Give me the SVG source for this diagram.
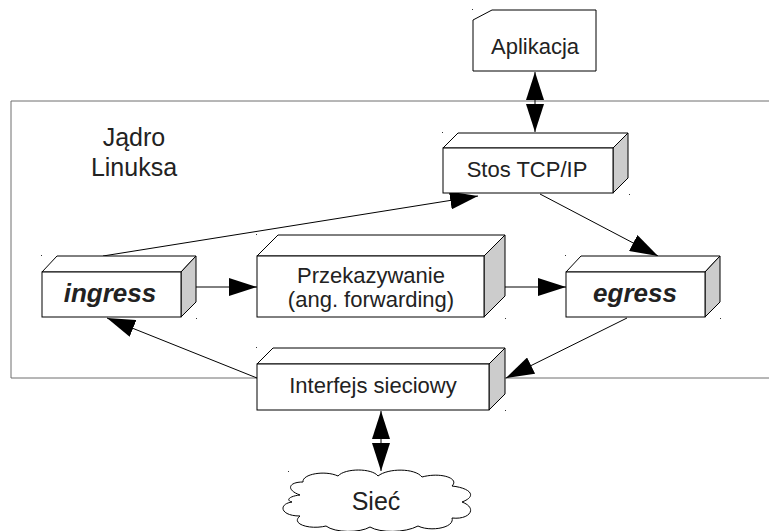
<svg xmlns="http://www.w3.org/2000/svg" width="769" height="531" viewBox="0 0 769 531">
<style>
.t{font-family:"Liberation Sans",Arial,sans-serif;fill:#222;text-anchor:middle}
.front{fill:#fff;stroke:#000;stroke-width:1}
.side{fill:#ccc;stroke:#000;stroke-width:1}
.top{fill:#fff;stroke:#000;stroke-width:1}
.c{stroke:#000;stroke-width:1;fill:none}
.d{fill:#333}
</style>
<defs>
<marker id="bh" viewBox="0 0 28 18" refX="28" refY="9" markerWidth="28" markerHeight="18" markerUnits="userSpaceOnUse" orient="auto">
<path d="M0,0 L28,9 L0,18 Z" fill="#000"/>
</marker>
</defs>
<rect width="769" height="531" fill="#fff"/>
<g id="kernel">
<path d="M769,101 L11,101 L11,378 L769,378" fill="none" stroke="#6e6e6e" stroke-width="1"/>
<text class="t" x="134" y="146" font-size="25">Jądro</text>
<text class="t" x="134" y="176" font-size="25">Linuksa</text>
</g>
<g id="connectors">
<line class="c" x1="535" y1="102" x2="535" y2="72" marker-end="url(#bh)"/>
<line class="c" x1="535" y1="102" x2="535" y2="132" marker-end="url(#bh)"/>
<line class="c" x1="381" y1="441" x2="381" y2="411" marker-end="url(#bh)"/>
<line class="c" x1="381" y1="441" x2="381" y2="471" marker-end="url(#bh)"/>
<line class="c" x1="103" y1="256" x2="478" y2="196" marker-end="url(#bh)"/>
<line class="c" x1="540" y1="194" x2="658" y2="256" marker-end="url(#bh)"/>
<line class="c" x1="196" y1="287" x2="257" y2="287" marker-end="url(#bh)"/>
<line class="c" x1="505" y1="287" x2="566" y2="287" marker-end="url(#bh)"/>
<line class="c" x1="627" y1="318" x2="506" y2="378" marker-end="url(#bh)"/>
<line class="c" x1="257" y1="378" x2="107" y2="318" marker-end="url(#bh)"/>
</g>
<g id="aplikacja">
<path class="front" d="M473,20 L492,10 L596,10 L596,71 L473,71 Z"/>
<rect class="d" x="472" y="9" width="1" height="1"/>
<text class="t" x="535" y="54" font-size="22">Aplikacja</text>
</g>
<g id="stos">
<path class="top" d="M443,148 L458,133 L628,133 L613,148 Z"/>
<path class="side" d="M613,148 L628,133 L628,178 L613,193 Z"/>
<rect class="front" x="443" y="148" width="170" height="45"/>
<rect class="d" x="442" y="132" width="1" height="1"/>
<rect class="d" x="629" y="194" width="1" height="1"/>
<text class="t" x="527" y="177" font-size="22">Stos TCP/IP</text>
</g>
<g id="ingress">
<path class="top" d="M42,272 L57,256 L196,256 L181,272 Z"/>
<path class="side" d="M181,272 L196,256 L196,302 L181,317 Z"/>
<rect class="front" x="42" y="272" width="139" height="45"/>
<rect class="d" x="41" y="255" width="1" height="1"/>
<rect class="d" x="196" y="318" width="1" height="1"/>
<text class="t" x="110" y="302" font-size="26" font-weight="bold" font-style="italic">ingress</text>
</g>
<g id="przekazywanie">
<path class="top" d="M257,256 L278,235 L505,235 L484,256 Z"/>
<path class="side" d="M484,256 L505,235 L505,296 L484,317 Z"/>
<rect class="front" x="257" y="256" width="227" height="61"/>
<rect class="d" x="256" y="234" width="1" height="1"/>
<rect class="d" x="505" y="318" width="1" height="1"/>
<text class="t" x="371" y="283" font-size="22">Przekazywanie</text>
<text class="t" x="371" y="307" font-size="22">(ang. forwarding)</text>
</g>
<g id="egress">
<path class="top" d="M566,272 L581,256 L720,256 L705,272 Z"/>
<path class="side" d="M705,272 L720,256 L720,302 L705,317 Z"/>
<rect class="front" x="566" y="272" width="139" height="45"/>
<rect class="d" x="565" y="255" width="1" height="1"/>
<rect class="d" x="720" y="318" width="1" height="1"/>
<text class="t" x="635" y="302" font-size="26" font-weight="bold" font-style="italic">egress</text>
</g>
<g id="interfejs">
<path class="top" d="M257,364 L273,348 L505,348 L489,364 Z"/>
<path class="side" d="M489,364 L505,348 L505,394 L489,410 Z"/>
<rect class="front" x="257" y="364" width="232" height="46"/>
<rect class="d" x="256" y="347" width="1" height="1"/>
<rect class="d" x="505" y="410" width="1" height="1"/>
<text class="t" x="373" y="393" font-size="22">Interfejs sieciowy</text>
</g>
<g id="siec">
<path class="front" d="M300,495 C286,490 288,482 303,482 C302,474 325,470 338,476 C345,468 372,468 378,476 C388,468 415,468 422,477 C440,472 460,478 452,486 C470,488 478,496 462,502 C478,508 470,520 452,518 C455,528 430,532 418,526 C405,533 380,533 370,527 C360,533 335,533 326,526 C310,530 290,524 300,516 C280,516 278,504 292,502 C285,500 290,496 300,495 Z"/>
<rect class="d" x="288" y="471" width="1" height="1"/>
<text class="t" x="376" y="510" font-size="25">Sieć</text>
</g>
</svg>
